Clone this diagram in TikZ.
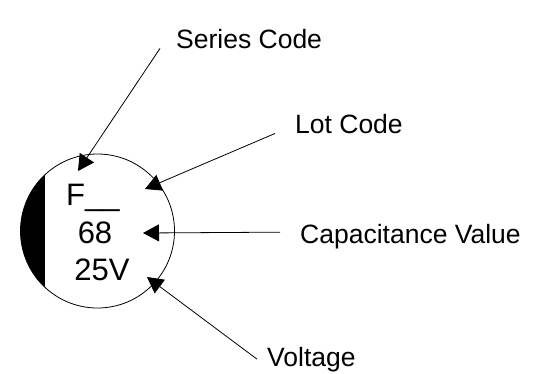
\documentclass[tikz,border=0pt]{standalone}
\usepackage{fontspec}
\setmainfont{Liberation Sans}
\usetikzlibrary{arrows.meta, positioning, calc}

\begin{document}
\begin{tikzpicture}[
  x=1pt, y=-1pt,
  label/.style={inner sep=0pt, anchor=base west, font=\fontsize{26.5}{30}\selectfont},
  marking/.style={inner sep=0pt, font=\fontsize{31}{34}\selectfont},
  pointer/.style={line width=0.8pt, -{Triangle[length=16pt, width=17pt]}}
]
  \useasboundingbox (0,0) rectangle (537,373);

  % capacitor top view
  \coordinate (ctr) at (97.5,231);
  \fill (ctr) ++(133:77) arc (133:227:77) -- cycle;
  \draw[line width=0.8pt] (ctr) circle (77);

  \node[marking, anchor=base west] (ser) at (66,205) {F\_\_};
  \node[marking, anchor=base] (val) at (95,243) {68};
  \node[marking, anchor=base] (volt) at (102,280) {25V};

  % labels
  \node[label] (serlbl) at (176,48) {Series Code};
  \node[label] (lotlbl) at (295,133) {Lot Code};
  \node[label] (caplbl) at (300,243) {Capacitance Value};
  \node[label] (voltlbl) at (267,366) {Voltage};

  \coordinate (sertip) at (78,171);
  \coordinate (lottip) at (145,189);
  \coordinate (captip) at (143,233);
  \coordinate (volttip) at (147,277);

  \draw[pointer] ([xshift=-16pt]serlbl.south west) -- (sertip);
  \draw[pointer] ([xshift=-20pt]lotlbl.south west) -- (lottip);
  \draw[pointer] ([xshift=-20pt, yshift=4pt]caplbl.west) -- (captip);
  \draw[pointer] ([xshift=-10pt]voltlbl.west) -- (volttip);
\end{tikzpicture}
\end{document}
